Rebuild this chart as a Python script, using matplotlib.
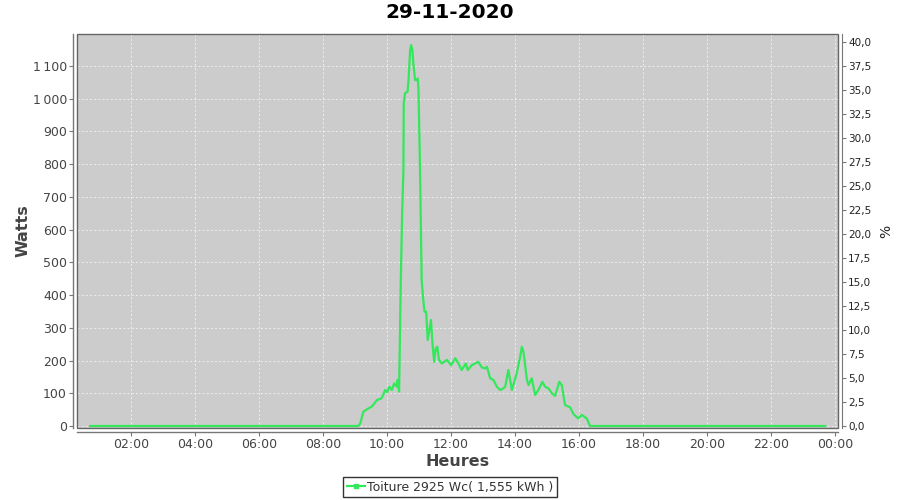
import matplotlib
matplotlib.use("Agg")
import matplotlib.pyplot as plt
from matplotlib.ticker import FuncFormatter, FixedLocator
from matplotlib.lines import Line2D
from matplotlib.patches import Rectangle

title = "29-11-2020"
series_label = "Toiture 2925 Wc( 1,555 kWh )"

# time in decimal hours, power in watts
hours = [0.72, 2.0, 4.0, 6.0, 8.0, 9.10, 9.16, 9.26, 9.42, 9.52, 9.68, 9.83, 9.94, 10.00,
         10.07, 10.15, 10.22, 10.30, 10.33, 10.375, 10.385, 10.42, 10.47, 10.51, 10.52,
         10.56, 10.64, 10.67, 10.72, 10.75, 10.79, 10.82, 10.875, 10.93, 10.96, 10.98,
         11.03, 11.08, 11.13, 11.17, 11.22, 11.27, 11.37, 11.42, 11.47, 11.52, 11.57,
         11.62, 11.71, 11.87, 12.00, 12.125, 12.23, 12.33, 12.46, 12.52, 12.65, 12.75,
         12.85, 12.96, 13.06, 13.12, 13.22, 13.32, 13.43, 13.53, 13.63, 13.69, 13.79,
         13.90, 14.05, 14.16, 14.21, 14.26, 14.37, 14.42, 14.52, 14.625, 14.73, 14.85,
         14.94, 15.04, 15.15, 15.25, 15.38, 15.46, 15.56, 15.72, 15.82, 15.97, 16.08,
         16.24, 16.34, 18.0, 20.0, 22.0, 23.69]
watts = [0, 0, 0, 0, 0, 0, 8, 44, 54, 59, 79, 85, 110, 103,
         120, 110, 130, 120, 141, 105, 171, 400, 650, 780, 986,
         1017, 1022, 1057, 1149, 1164, 1149, 1108, 1057, 1057, 1062, 1027,
         782, 446, 385, 349, 349, 263, 324, 250, 196, 237, 242,
         202, 191, 202, 186, 207, 191, 171, 191, 171, 186, 191,
         196, 179, 176, 181, 146, 141, 120, 110, 115, 120, 171,
         110, 161, 212, 242, 227, 141, 125, 146, 95, 110, 135,
         120, 115, 100, 92, 135, 125, 64, 57, 37, 23, 34,
         23, 0, 0, 0, 0, 0]

x_ticks = [2, 4, 6, 8, 10, 12, 14, 16, 18, 20, 22, 24]
left_ticks = [0, 100, 200, 300, 400, 500, 600, 700, 800, 900, 1000, 1100]
right_ticks = [0, 2.5, 5, 7.5, 10, 12.5, 15, 17.5, 20, 22.5, 25, 27.5, 30, 32.5, 35, 37.5, 40]

line_color = "#33E85A"
text_color = "#444444"
px = 72 / 100.0  # points per pixel

fig = plt.figure(figsize=(9, 5), dpi=100)
fig.patch.set_facecolor("white")
ax = fig.add_axes([77 / 900, 1 - 428 / 500, (838 - 77) / 900, (428 - 34) / 500])
ax.set_facecolor("#CCCCCC")

ax.plot(hours, watts, color=line_color, linewidth=1.6, solid_joinstyle="round", zorder=3)

ax.set_xlim(0.31, 24.09)
ax.set_ylim(-6.1, 1197.8)

ax.xaxis.set_major_locator(FixedLocator(x_ticks))
ax.xaxis.set_major_formatter(FuncFormatter(lambda v, p: "%02d:00" % (int(round(v)) % 24)))
ax.yaxis.set_major_locator(FixedLocator(left_ticks))
ax.yaxis.set_major_formatter(FuncFormatter(lambda v, p: "{:,}".format(int(v)).replace(",", "\u2009")))

ax.grid(True, color="#F2F2F2", linestyle=(0, (2.5, 2.5)), linewidth=0.6, zorder=1)
ax.set_axisbelow(True)

for s in ["top", "right"]:
    ax.spines[s].set_visible(False)
for s in ["left", "bottom"]:
    ax.spines[s].set_position(("outward", 4 * px))
    ax.spines[s].set_color("#777777")
    ax.spines[s].set_linewidth(1.0)

ax.add_patch(Rectangle((0, 0), 1, 1, transform=ax.transAxes, fill=False,
                       edgecolor="#666666", linewidth=1.0, zorder=5, clip_on=False))

ax.tick_params(axis="both", direction="out", length=4 * px, width=0.8, color="#777777",
               labelcolor=text_color, labelsize=9)
ax.tick_params(axis="x", pad=2 * px)
ax.tick_params(axis="y", pad=2 * px)

ax.set_xlabel("Heures", fontsize=11.5, fontweight="bold", color=text_color, labelpad=2)
ax.set_ylabel("Watts", fontsize=11.5, fontweight="bold", color=text_color, labelpad=1.5)
ax.yaxis.set_label_coords(ax.yaxis.label.get_position()[0], 0.48) if False else None

ax2 = ax.twinx()
ax2.set_ylim(-0.21, 40.83)
ax2.yaxis.set_major_locator(FixedLocator(right_ticks))
ax2.yaxis.set_major_formatter(FuncFormatter(lambda v, p: ("%.1f" % v).replace(".", ",")))
for s in ["top", "left", "bottom"]:
    ax2.spines[s].set_visible(False)
ax2.spines["right"].set_position(("outward", 4 * px))
ax2.spines["right"].set_color("#777777")
ax2.tick_params(axis="y", direction="out", length=4 * px, width=0.8, color="#777777",
                labelcolor="#222222", labelsize=7.5, pad=2 * px)
ax2.set_ylabel("%", fontsize=10, color="#222222", labelpad=6)

fig.text(0.5, 1 - 13 / 500, title, ha="center", va="center", fontsize=14.5,
         fontweight="bold", color="black")

handle = Line2D([], [], color=line_color, linewidth=1.6, marker="s", markersize=2.5)
leg = fig.legend([handle], [series_label], loc="center", bbox_to_anchor=(450 / 900, 1 - 487 / 500),
                 frameon=True, fancybox=False, fontsize=9, handlelength=1.5,
                 handletextpad=0.15, borderpad=0.3, borderaxespad=0)
leg.get_frame().set_edgecolor("black")
leg.get_frame().set_linewidth(1.0)
for t in leg.get_texts():
    t.set_color("#333333")

fig.savefig("out.png", dpi=100)
